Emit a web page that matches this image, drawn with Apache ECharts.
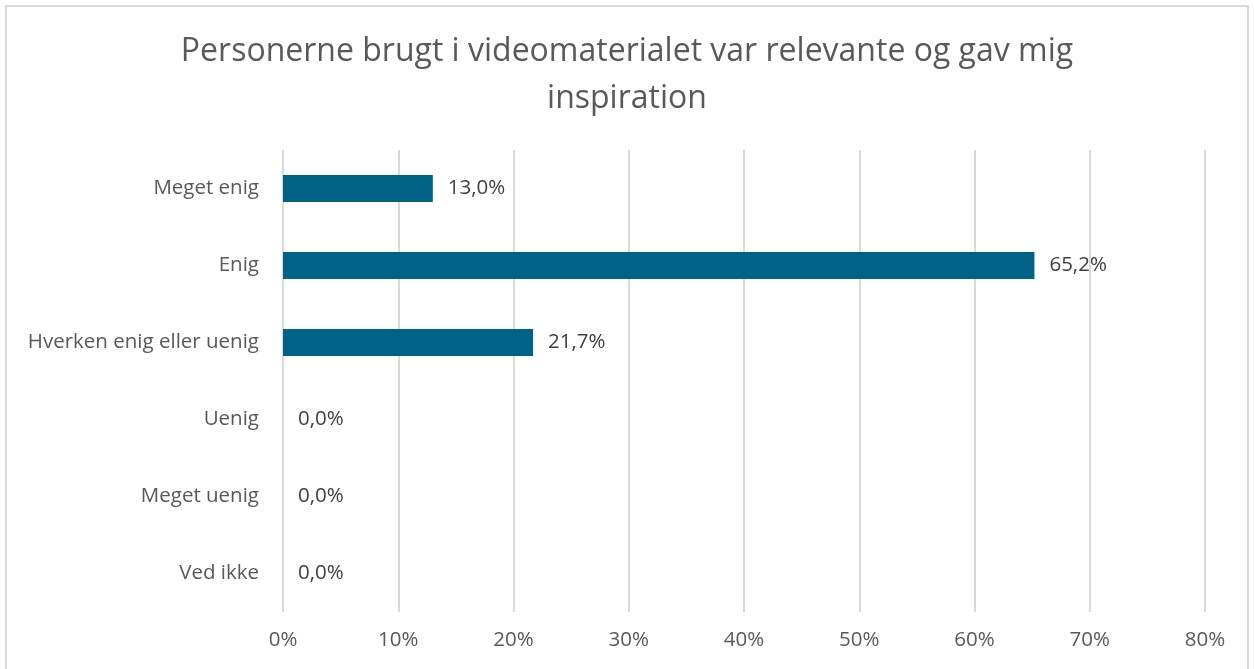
<!DOCTYPE html>
<html>
<head>
<meta charset="utf-8">
<script src="https://cdn.jsdelivr.net/npm/echarts@6/dist/echarts.min.js"></script>
<style>
  html, body { margin: 0; padding: 0; background: #fff; }
  #chart { position: absolute; left: 5px; top: 5px; width: 1244px; height: 670px; border: 2px solid #d9d9d9; box-sizing: border-box; }
</style>
</head>
<body>
<div id="chart"></div>
<script>
  // kategorier og værdier
  var categories = ['Meget enig', 'Enig', 'Hverken enig eller uenig', 'Uenig', 'Meget uenig', 'Ved ikke'];
  var values = [13.0, 65.2, 21.7, 0.0, 0.0, 0.0];
  var tickValues = [0, 10, 20, 30, 40, 50, 60, 70, 80];

  var myChart = echarts.init(document.getElementById('chart'));
  var font = '"Open Sans", "Noto Sans", sans-serif';
  var option = {
    animation: false,
    title: {
      text: 'Personerne brugt i videomaterialet var relevante og gav mig\ninspiration',
      left: 'center',
      top: 16,
      textStyle: {
        fontFamily: font,
        fontSize: 32,
        fontWeight: 'normal',
        color: '#595959',
        lineHeight: 47
      }
    },
    grid: {
      left: 276,
      right: 42,
      top: 143,
      bottom: 61,
      containLabel: false
    },
    xAxis: {
      type: 'value',
      min: tickValues[0],
      max: tickValues[tickValues.length - 1],
      interval: 10,
      axisLine: { show: false },
      axisTick: { show: false },
      splitLine: { show: true, lineStyle: { color: '#d9d9d9', width: 2 } },
      axisLabel: {
        formatter: '{value}%',
        fontFamily: font,
        fontSize: 20.5,
        color: '#595959',
        margin: 18
      }
    },
    yAxis: {
      type: 'category',
      inverse: true,
      data: categories,
      axisLine: { show: false },
      axisTick: { show: false },
      axisLabel: {
        fontFamily: font,
        fontSize: 20.5,
        color: '#595959',
        margin: 24
      }
    },
    series: [
      {
        type: 'bar',
        data: values,
        barWidth: 27,
        itemStyle: { color: '#006385' },
        label: {
          show: true,
          position: 'right',
          distance: 15,
          fontFamily: font,
          fontSize: 20.5,
          color: '#404040',
          formatter: function (p) {
            return p.value.toFixed(1).replace('.', ',') + '%';
          }
        }
      }
    ]
  };
  myChart.setOption(option);
</script>
</body>
</html>
